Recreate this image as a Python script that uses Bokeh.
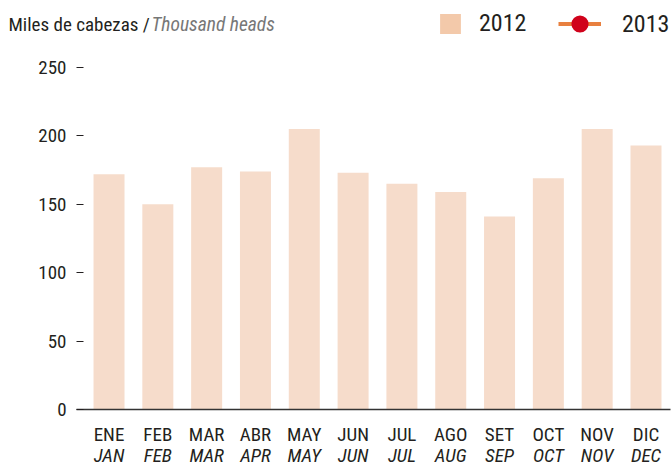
from bokeh.plotting import figure
from bokeh.models import (Range1d, FixedTicker, LinearAxis, Label, Legend, LegendItem)
from bokeh.embed import file_html
from bokeh.resources import INLINE

nan = float("nan")
months_es = ["ENE", "FEB", "MAR", "ABR", "MAY", "JUN", "JUL", "AGO", "SET", "OCT", "NOV", "DIC"]
months_en = ["JAN", "FEB", "MAR", "APR", "MAY", "JUN", "JUL", "AUG", "SEP", "OCT", "NOV", "DEC"]
values_2012 = [172, 150, 177, 174, 205, 173, 165, 159, 141, 169, 205, 193]
values_2013 = [nan] * 12          # no 2013 values are drawn in the reference
y_ticks = [0, 50, 100, 150, 200, 250]

FONT = "Roboto Condensed, DejaVu Sans Condensed, Liberation Sans Narrow, Arial Narrow, Roboto"
DARK = "#231f20"
BAR = "#f6dccb"
SWATCH = "#f3c9aa"
ORANGE = "#e8803f"
RED = "#d0021b"

x = list(range(len(months_es)))

# frame covers the whole canvas; axes are drawn at fixed locations inside it
X_LO, X_HI = -0.666, 11.5
p = figure(width=672, height=463, output_backend="svg", toolbar_location=None,
           x_range=Range1d(-2.223, 11.543), y_range=Range1d(-39.47, 298.98),
           min_border=0, outline_line_color=None, x_axis_type=None, y_axis_type=None)
p.grid.visible = False

bars = p.vbar(x=x, top=values_2012, width=0.635, fill_color=BAR, line_color=None)
swatch = p.vbar(x=x, top=values_2012, width=0.635, fill_color=SWATCH, line_color=None,
                visible=False)
line13 = p.line(x=x, y=values_2013, line_color=ORANGE, line_width=4)
dot13 = p.scatter(x=x, y=values_2013, size=17, fill_color=RED, line_color=None)

yax = LinearAxis(ticker=FixedTicker(ticks=y_ticks), fixed_location=X_LO, bounds=(0, 250))
yax.axis_line_color = None
yax.major_tick_in = 7
yax.major_tick_out = 0
yax.major_tick_line_color = DARK
yax.major_tick_line_width = 1.2
yax.minor_tick_line_color = None
yax.major_label_standoff = 10
yax.major_label_text_font = FONT
yax.major_label_text_font_size = "19px"
yax.major_label_text_color = DARK
p.add_layout(yax, "left")

def month_axis(labels, standoff, style):
    ax = LinearAxis(ticker=FixedTicker(ticks=x), fixed_location=0, bounds=(X_LO, X_HI),
                    major_label_overrides={i: m for i, m in zip(x, labels)})
    ax.major_tick_line_color = None
    ax.major_tick_out = 0
    ax.major_tick_in = 0
    ax.minor_tick_line_color = None
    ax.major_label_standoff = standoff
    ax.major_label_text_font = FONT
    ax.major_label_text_font_style = style
    ax.major_label_text_font_size = "19px"
    ax.major_label_text_color = DARK
    ax.major_label_text_line_height = 1.0
    return ax

xax1 = month_axis(months_es, 13, "normal")
xax1.axis_line_color = "#333333"
xax1.axis_line_width = 1.6
p.add_layout(xax1, "below")

xax2 = month_axis(months_en, 34, "italic")
xax2.axis_line_color = None
p.add_layout(xax2, "below")

# title (screen units from the frame's bottom-left corner)
p.add_layout(Label(x=8, y=439, x_units="screen", y_units="screen",
                   text="Miles de cabezas / ", text_font=FONT, text_font_size="19px",
                   text_color=DARK, text_baseline="alphabetic"))
p.add_layout(Label(x=151, y=439, x_units="screen", y_units="screen",
                   text="Thousand heads", text_font=FONT, text_font_size="19.5px",
                   text_font_style="italic", text_color="#777777", text_baseline="alphabetic"))

common = dict(orientation="horizontal", padding=0, margin=0, border_line_color=None,
              background_fill_alpha=0, label_text_font=FONT, label_text_font_size="24px",
              label_text_color=DARK)
leg1 = Legend(items=[LegendItem(label="2012", renderers=[swatch])], location=(437, 426),
              glyph_width=26, glyph_height=25, label_height=25, label_standoff=16, **common)
leg2 = Legend(items=[LegendItem(label="2013", renderers=[line13, dot13])], location=(558, 418),
              glyph_width=43, glyph_height=43, label_height=25, label_standoff=21, **common)
p.add_layout(leg1)
p.add_layout(leg2)

open("out.html", "w").write(file_html(p, INLINE))
